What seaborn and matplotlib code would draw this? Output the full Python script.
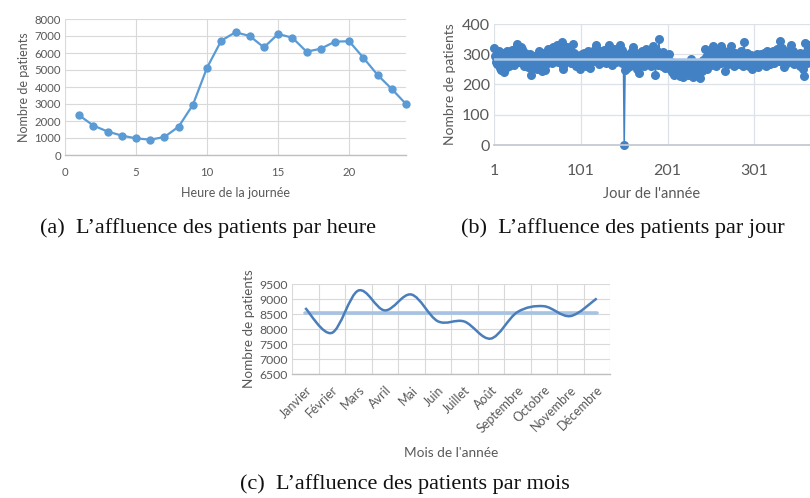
import numpy as np
import matplotlib
matplotlib.use("Agg")
import matplotlib.pyplot as plt
from matplotlib.path import Path
from matplotlib.patches import PathPatch
import seaborn as sns

# Affluence par heure
heures = list(range(1, 25))
patients_heure = [2330, 1730, 1380, 1140, 980, 900, 1060, 1670, 2950, 5140,
                  6730, 7220, 7000, 6330, 7120, 6900, 6080, 6250, 6670, 6690,
                  5720, 4710, 3880, 3000]

# Affluence par jour (365 jours)
jours = list(range(1, 366))
patients_jour = [
    322, 294, 275, 300, 268, 285, 310, 255, 248, 262,
    290, 305, 240, 252, 278, 312, 296, 260, 284, 270,
    300, 315, 288, 265, 298, 322, 335, 310, 290, 276,
    300, 325, 318, 295, 280, 262, 305, 290, 270, 258,
    285, 300, 268, 230, 255, 278, 295, 288, 262, 250,
    272, 298, 310, 285, 265, 245, 290, 305, 275, 247,
    268, 300, 318, 292, 280, 312, 296, 270, 325, 305,
    288, 312, 330, 300, 276, 318, 290, 305, 341, 262,
    252, 285, 310, 298, 325, 278, 300, 292, 315, 270,
    288, 335, 305, 280, 262, 298, 285, 270, 290, 252,
    275, 300, 288, 268, 305, 295, 260, 282, 310, 272,
    290, 255, 300, 285, 312, 278, 295, 320, 332, 300,
    285, 268, 305, 290, 310, 275, 298, 315, 288, 270,
    300, 322, 312, 332, 295, 280, 265, 305, 318, 290,
    275, 300, 285, 310, 322, 330, 298, 272, 315, 290,
    0, 247, 268, 255, 290, 275, 300, 262, 285, 310,
    325, 295, 270, 288, 305, 252, 280, 238, 265, 300,
    285, 310, 272, 260, 298, 319, 290, 268, 305, 280,
    295, 262, 312, 327, 300, 275, 230, 288, 310, 265,
    350, 285, 270, 300, 262, 308, 290, 255, 275, 298,
    265, 285, 302, 250, 275, 240, 262, 230, 270, 255,
    245, 268, 235, 258, 228, 250, 272, 240, 225, 262,
    248, 235, 268, 230, 255, 242, 260, 283, 238, 225,
    250, 265, 232, 248, 270, 240, 228, 222, 255, 268,
    245, 280, 260, 316, 290, 252, 300, 275, 310, 288,
    265, 305, 327, 295, 280, 310, 262, 300, 285, 318,
    290, 272, 327, 300, 285, 310, 244, 295, 280, 305,
    268, 290, 312, 327, 300, 275, 288, 262, 305, 295,
    280, 300, 268, 290, 310, 275, 295, 262, 341, 300,
    285, 270, 305, 290, 260, 282, 298, 250, 275, 292,
    265, 288, 270, 302, 258, 280, 295, 268, 300, 285,
    272, 305, 290, 262, 298, 310, 280, 292, 268, 300,
    285, 312, 295, 270, 305, 288, 318, 300, 278, 345,
    310, 290, 322, 300, 258, 285, 305, 270, 295, 312,
    288, 300, 330, 280, 310, 295, 268, 302, 285, 300,
    275, 290, 305, 262, 280, 295, 250, 227, 336, 300,
    270, 312, 290, 330, 298,
]

# Affluence par mois
mois = ["Janvier", "Février", "Mars", "Avril", "Mai", "Juin", "Juillet",
        "Août", "Septembre", "Octobre", "Novembre", "Décembre"]
patients_mois = [8700, 7870, 9280, 8620, 9150, 8260, 8250, 7680, 8560, 8760,
                 8430, 9020]

sns.set_style("white")
plt.rcParams["font.family"] = ["Lato", "DejaVu Sans"]

gris_txt = "#595959"
gris_grille = "#D9D9D9"
gris_axe = "#BFBFBF"


def habiller(ax, taille):
    ax.grid(True, color=gris_grille, linewidth=0.8)
    ax.set_axisbelow(True)
    for s in ["top", "right", "left"]:
        ax.spines[s].set_visible(False)
    ax.spines["bottom"].set_color(gris_axe)
    ax.spines["bottom"].set_linewidth(1.0)
    ax.tick_params(length=0, labelsize=taille, colors=gris_txt, pad=3)


fig = plt.figure(figsize=(8.1, 4.98), dpi=100)

#############################################################################################
# (a) par heure
ax1 = fig.add_axes([65 / 810, 1 - 155 / 498, 341 / 810, 136 / 498])
sns.lineplot(x=heures, y=patients_heure, ax=ax1, color="#5B9BD5", linewidth=1.6,
             marker="o", markersize=6, markeredgewidth=0, clip_on=False)
ax1.set_xlim(0, 24)
ax1.set_ylim(0, 8000)
ax1.set_xticks([0, 5, 10, 15, 20])
ax1.set_yticks(range(0, 8001, 1000))
habiller(ax1, 8.2)
ax1.tick_params(axis="x", pad=9)
ax1.set_xlabel("Heure de la journée", fontsize=9, color=gris_txt, labelpad=6)
ax1.set_ylabel("Nombre de patients", fontsize=9, color=gris_txt, labelpad=3)

#############################################################################################
# (b) par jour
bleu_b = "#4281C3"
ax2 = fig.add_axes([494 / 810, 1 - 145 / 498, 316 / 810, 121 / 498])
sns.lineplot(x=jours, y=patients_jour, ax=ax2, color=bleu_b, linewidth=1.1,
             marker="o", markersize=6.5, markeredgewidth=0, clip_on=False)
moy_jour = np.mean(patients_jour)
sns.lineplot(x=jours, y=[moy_jour] * len(jours), ax=ax2, color="#A9C8E8",
             linewidth=1.8)
ax2.set_xlim(1, 365)
ax2.set_ylim(0, 400)
ax2.set_xticks([1, 101, 201, 301])
ax2.set_yticks(range(0, 401, 100))
habiller(ax2, 11.5)
ax2.grid(True, color="#DDE1E8", linewidth=0.9)
ax2.spines["bottom"].set_color("#C5CAD3")
ax2.spines["bottom"].set_linewidth(1.3)
ax2.tick_params(axis="x", pad=14)
ax2.set_xlabel("Jour de l'année", fontsize=10.5, color=gris_txt, labelpad=6)
ax2.set_ylabel("Nombre de patients", fontsize=10, color=gris_txt, labelpad=4)

#############################################################################################
# (c) par mois (courbe lissée)
ax3 = fig.add_axes([292 / 810, 1 - 374 / 498, 318 / 810, 90 / 498])
pos = np.arange(len(mois))
ys = np.array(patients_mois, dtype=float)
pts = np.column_stack([pos, ys])
verts = [pts[0]]
codes = [Path.MOVETO]
n = len(pts)
for i in range(n - 1):
    p0 = pts[max(i - 1, 0)]
    p1 = pts[i]
    p2 = pts[i + 1]
    p3 = pts[min(i + 2, n - 1)]
    verts += [p1 + (p2 - p0) / 6, p2 - (p3 - p1) / 6, p2]
    codes += [Path.CURVE4] * 3
ax3.add_patch(PathPatch(Path(verts, codes), facecolor="none",
                        edgecolor="#4A7EBB", linewidth=1.8, zorder=3))
moy_mois = np.mean(patients_mois)
sns.lineplot(x=pos, y=[moy_mois] * len(mois), ax=ax3, color="#A6C3E4",
             linewidth=2.6, zorder=2)
ax3.set_xlim(-0.5, len(mois) - 0.5)
ax3.set_ylim(6500, 9500)
ax3.set_yticks(range(6500, 9501, 500))
ax3.set_xticks(pos)
ax3.set_xticks(np.arange(-0.5, len(mois), 1), minor=True)
habiller(ax3, 8.8)
ax3.grid(False)
ax3.grid(True, axis="y", color=gris_grille, linewidth=0.8)
ax3.grid(True, axis="x", which="minor", color=gris_grille, linewidth=0.8)
ax3.tick_params(which="minor", length=0)
ax3.tick_params(axis="x", pad=7)
ax3.set_xticklabels(mois, rotation=45, ha="right", va="top",
                    rotation_mode="anchor", fontsize=9)
ax3.set_xlabel("Mois de l'année", fontsize=9.8, color=gris_txt, labelpad=9)
ax3.set_ylabel("Nombre de patients", fontsize=9.7, color=gris_txt, labelpad=3)

#############################################################################################
# Légendes des sous-figures
police_legende = dict(family=["Liberation Serif", "DejaVu Serif"], fontsize=16,
                      color="#111111", ha="center", va="center")
fig.text(208 / 810, 1 - 228 / 498, "(a)  L’affluence des patients par heure", **police_legende)
fig.text(623 / 810, 1 - 228 / 498, "(b)  L’affluence des patients par jour", **police_legende)
fig.text(405 / 810, 1 - 484 / 498, "(c)  L’affluence des patients par mois", **police_legende)

fig.savefig("out.png", dpi=100)
